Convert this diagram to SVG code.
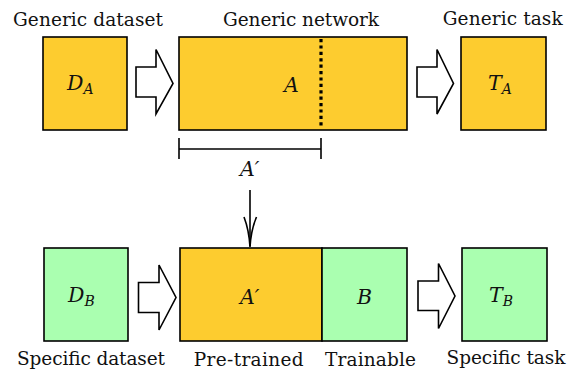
<svg xmlns="http://www.w3.org/2000/svg" width="579" height="371" viewBox="0 0 579 371">
<style>
.t{font-size:18.5px;fill:#111;text-anchor:middle}
.m{font-size:20.5px;font-style:italic;fill:#111}
.s{font-size:14px}
.y{fill:#FDCC2F;stroke:#000;stroke-width:1.6}
.g{fill:#AAFFB0;stroke:#000;stroke-width:1.6}
.ba{fill:#fff;stroke:#000;stroke-width:1.6;stroke-linejoin:miter}
.ln{fill:none;stroke:#000;stroke-width:1.6}
</style>
<rect width="579" height="371" fill="#fff"/>
<g font-family="DejaVu Serif, serif">
<g id="generic-dataset">
<rect class="y" x="43" y="37" width="84" height="93"/>
<text class="t" x="88" y="26" textLength="150" lengthAdjust="spacing">Generic dataset</text>
<text class="m" x="67" y="89.5">D<tspan class="s" dy="4">A</tspan></text>
</g>
<g id="generic-network">
<rect class="y" x="179" y="37" width="228" height="93"/>
<line x1="321" y1="39" x2="321" y2="128" stroke="#000" stroke-width="3.2" stroke-dasharray="3.2,3.2"/>
<text class="t" x="301" y="26" textLength="156" lengthAdjust="spacing">Generic network</text>
<text class="m" x="284" y="92">A</text>
</g>
<g id="generic-task">
<rect class="y" x="461" y="37" width="85" height="93"/>
<text class="t" x="502.7" y="24.5" textLength="120" lengthAdjust="spacing">Generic task</text>
<text class="m" x="488" y="89.5">T<tspan class="s" dy="4">A</tspan></text>
</g>
<g id="specific-dataset">
<rect class="g" x="44" y="248" width="84" height="93"/>
<text class="t" x="91" y="365" textLength="148" lengthAdjust="spacing">Specific dataset</text>
<text class="m" x="68" y="302">D<tspan class="s" dy="4">B</tspan></text>
</g>
<g id="pretrained">
<rect class="y" x="180" y="248" width="142" height="93"/>
<text class="t" x="248.7" y="366" textLength="110" lengthAdjust="spacing">Pre-trained</text>
<text class="m" x="240" y="304">A′</text>
</g>
<g id="trainable">
<rect class="g" x="322" y="248" width="85" height="93"/>
<text class="t" x="370.5" y="366" textLength="91" lengthAdjust="spacing">Trainable</text>
<text class="m" x="357" y="304">B</text>
</g>
<g id="specific-task">
<rect class="g" x="462" y="248" width="85" height="93"/>
<text class="t" x="506" y="364" textLength="119" lengthAdjust="spacing">Specific task</text>
<text class="m" x="489" y="302">T<tspan class="s" dy="4">B</tspan></text>
</g>
<g id="connectors">
<path class="ba" d="M136,67 H156 V49.5 L173,83.5 L156,114 V97 H136 Z"/>
<path class="ba" d="M417,67 H437 V49.5 L453.5,83.5 L437,114 V97 H417 Z"/>
<path class="ba" d="M138.5,282.5 H159 V265 L176,297.5 L159,330 V312.5 H138.5 Z"/>
<path class="ba" d="M418,281 H438.5 V263.5 L455,296 L438.5,328.5 V310.5 H418 Z"/>
<line class="ln" x1="179" y1="149" x2="321" y2="149"/>
<line class="ln" x1="179" y1="138" x2="179" y2="159"/>
<line class="ln" x1="321" y1="138" x2="321" y2="159"/>
<text class="m" x="240" y="176">A′</text>
<line class="ln" x1="250" y1="190" x2="250" y2="246"/>
<path class="ln" d="M244,217 Q249,230 250,247 Q251,230 256.5,217"/>
</g>
</g>
</svg>
